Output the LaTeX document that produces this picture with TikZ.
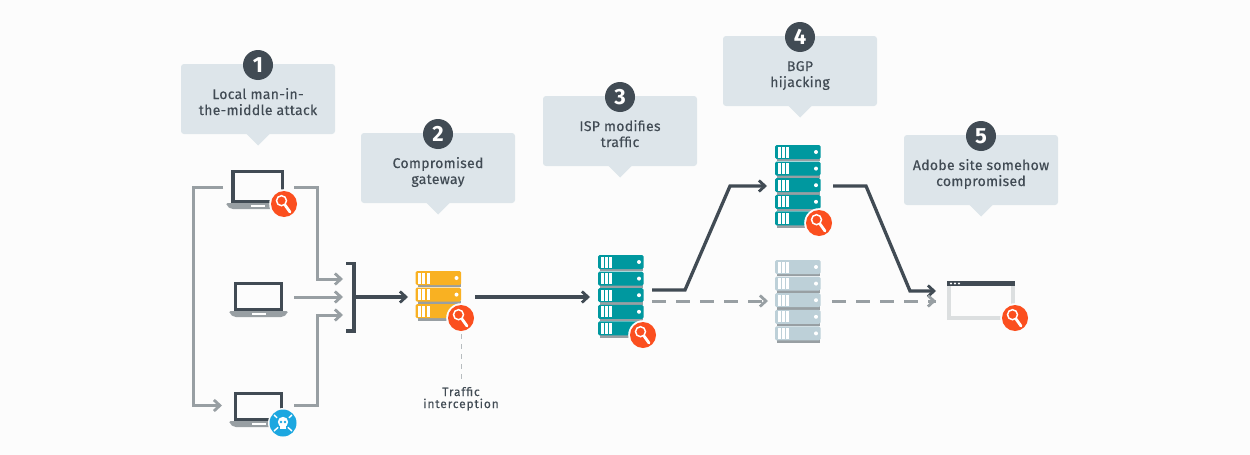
\documentclass[tikz,border=0pt]{standalone}
\usepackage{fontspec}
\setmainfont{Fira Sans}
\newfontfamily\boxfont{Fira Sans}[FakeBold=0.35,LetterSpace=2.2]
\newfontfamily\notefont{Fira Sans}[FakeBold=0.3,LetterSpace=7]
\usetikzlibrary{arrows.meta,calc}
\definecolor{bgc}{HTML}{FCFCFC}
\definecolor{boxc}{HTML}{DDE5EA}
\definecolor{darkc}{HTML}{414B54}
\definecolor{greyc}{HTML}{989FA3}
\definecolor{tealc}{HTML}{00989F}
\definecolor{yelc}{HTML}{F9B122}
\definecolor{ghostc}{HTML}{BDD0D8}
\definecolor{redc}{HTML}{FB4F1F}
\definecolor{bluec}{HTML}{1CA7E0}
\definecolor{framec}{HTML}{DCDFE0}
\tikzset{
  boxtext/.style={text=darkc,font=\boxfont\fontsize{14}{16}\selectfont,align=center,inner sep=0pt},
  smalltext/.style={text=darkc,font=\notefont\fontsize{12}{12}\selectfont,align=center,inner sep=0pt},
  numnode/.style={circle,fill=darkc,text=white,minimum size=30pt,inner sep=0pt,font=\fontsize{22}{22}\selectfont\bfseries},
  darkline/.style={draw=darkc,line width=3.3pt,line join=miter},
  greyline/.style={draw=greyc,line width=3pt,line join=miter},
  tip/.style={-{Straight Barb[length=6pt,width=11pt,line width=2.8pt]}},
  dashline/.style={greyline,dash pattern=on 14pt off 10pt},
  thindash/.style={draw=greyc!70,line width=1pt,dash pattern=on 5pt off 5pt},
}
\newcommand{\callout}[6]{%
  \fill[boxc,rounded corners=3pt] (#1,#2) rectangle ++(154,70);
  \fill[boxc] ($(#1,#2)+(65,69.5)$) -- ++(12,12) -- ++(12,-12) -- cycle;
  \node[numnode] (#4) at ($(#1,#2)+(77,1)$) {#3};
  \node[boxtext,anchor=base] (#4a) at ($(#1,#2)+(77,35)$) {#5};
  \node[boxtext,anchor=base] (#4b) at ($(#1,#2)+(77,51)$) {#6};
}
\newcommand{\laptop}[5]{%
  \draw[draw=darkc,line width=3.4pt] (#1+1.5,#2+1.5) rectangle (#1+#3-1.5,#2+#4);
  \fill[greyc,rounded corners=2pt] (#1-#5,#2+#4+1) -- (#1+#3+#5,#2+#4+1) -- (#1+#3+#5-1,#2+#4+4) -- (#1+#3+#5-5,#2+#4+7) -- (#1-#5+5,#2+#4+7) -- (#1-#5+1,#2+#4+4) -- cycle;
  \fill[white] (#1+#3/2-7,#2+#4+3) rectangle (#1+#3/2+7,#2+#4+5);
}
\newcommand{\server}[4]{%
  \foreach \i in {1,...,#3}{%
    \pgfmathsetmacro{\yy}{#2+(\i-1)*16.6}
    \fill[greyc] (#1+2,\yy+13) rectangle (#1+45,\yy+16.4);
    \fill[#4,rounded corners=1.5pt] (#1,\yy) rectangle (#1+45.5,\yy+14);
    \fill[white] (#1+2.8,\yy+1.5) rectangle ++(3,11);
    \fill[white] (#1+6.9,\yy+1.5) rectangle ++(3,11);
    \fill[white] (#1+11,\yy+1.5) rectangle ++(3,11);
    \fill[white] (#1+41,\yy+7) circle (2);
  }%
}
\newcommand{\lens}[2]{%
  \fill[bgc] (#1,#2) circle (14.8);
  \fill[redc] (#1,#2) circle (13);
  \draw[white,line width=1.5pt] (#1-2.5,#2-3.3) circle (5);
  \draw[white,line width=2.8pt,line cap=round] (#1+1,#2+1) -- (#1+6,#2+8);
}
\newcommand{\skull}[2]{%
  \fill[bluec] (#1,#2) circle (13.5);
  \draw[white,line width=1.4pt] (#1-9,#2-8) -- (#1+9,#2+8) (#1+9,#2-8) -- (#1-9,#2+8);
  \fill[bluec] (#1,#2-1) circle (7.2);
  \fill[white] (#1,#2-1) circle (5.2);
  \fill[white] (#1-2.7,#2+1) rectangle (#1+2.7,#2+6);
  \fill[bluec] (#1-2,#2-1) circle (1.3) (#1+2,#2-1) circle (1.3);
}
\begin{document}
\begin{tikzpicture}[x=1pt,y=-1pt]
\useasboundingbox (0,0) rectangle (1250,455);
\fill[bgc] (0,0) rectangle (1250,455);

\callout{181}{64}{1}{n1}{Local man-in-}{the-middle attack}
\callout{361}{133}{2}{n2}{Compromised}{gateway}
\callout{543}{96}{3}{n3}{ISP modifies}{traffic}
\callout{723}{36}{4}{n4}{BGP}{hijacking}
\callout{904}{135}{5}{n5}{Adobe site somehow}{compromised}

\coordinate (lapAl) at (223,187);
\coordinate (lapAr) at (294,187);
\coordinate (loopTL) at (193,187);
\coordinate (loopBL) at (193,405.5);
\coordinate (lapCl) at (222,405.5);
\coordinate (lapCr) at (294,405.5);
\coordinate (lapBr) at (294,297);
\coordinate (colA) at (317,187);
\coordinate (colC) at (317,405.5);
\coordinate (inA) at (343,279);
\coordinate (inB) at (343,297);
\coordinate (inC) at (343,315);
\coordinate (brT0) at (346,263.5);
\coordinate (brT) at (354,263.5);
\coordinate (brB) at (354,331);
\coordinate (brB0) at (346,331);
\coordinate (brM) at (354,297);
\coordinate (gwIn) at (408,297);
\coordinate (gwOut) at (475,297);
\coordinate (ispIn) at (590,297);
\coordinate (ispOutU) at (652,290);
\coordinate (upA) at (685,290);
\coordinate (upB) at (730,186);
\coordinate (bgpIn) at (767,186);
\coordinate (bgpOut) at (833,186);
\coordinate (dnA) at (866,186);
\coordinate (dnB) at (910,291);
\coordinate (webInU) at (936,291);
\coordinate (ispOutD) at (652,301);
\coordinate (ghostIn) at (768,301);
\coordinate (ghostOut) at (832,301);
\coordinate (webInD) at (936,301);
\coordinate (gwBadge) at (461,334);
\coordinate (noteTop) at (461,383);

\draw[greyline,tip] (lapAl) -- (loopTL) -- (loopBL) -- (lapCl);
\draw[greyline,tip] (lapAr) -- (colA) |- (inA);
\draw[greyline,tip] (lapBr) -- (inB);
\draw[greyline,tip] (lapCr) -- (colC) |- (inC);
\draw[darkline] (brT0) -- (brT) -- (brB) -- (brB0);
\draw[darkline,tip] (brM) -- (gwIn);
\draw[darkline,tip] (gwOut) -- (ispIn);
\draw[darkline,tip] (ispOutU) -- (upA) -- (upB) -- (bgpIn);
\draw[darkline,tip] (bgpOut) -- (dnA) -- (dnB) -- (webInU);
\draw[dashline] (ispOutD) -- (ghostIn);
\draw[dashline] (ghostOut) -- (webInD);
\draw[greyline,tip,dash pattern=on 0pt off 200pt] (ghostOut) -- (webInD);
\draw[greyline,tip,dash pattern=on 0pt off 200pt] (ispOutD) -- (ghostIn);
\draw[thindash] (gwBadge) -- (noteTop);

\laptop{231.5}{170}{52.5}{32}{5.5}
\laptop{234}{282}{49}{28}{5}
\laptop{234}{392}{49}{28}{5}
\lens{284}{204}
\fill[bgc] (283,423) circle (15);
\skull{283}{423}

\server{415.5}{271}{3}{yelc}
\lens{461}{318}
\server{598}{255}{5}{tealc}
\lens{643}{335}
\server{775}{145}{5}{tealc}
\lens{819}{223}
\server{775}{260}{5}{ghostc}

\draw[framec,line width=4pt] (949,284) -- (949,318) -- (1013,318) -- (1013,284);
\fill[darkc] (947,281) rectangle (1015,286);
\foreach \d in {0,1,2}{\fill[white] (951+\d*4,283.5) circle (1.1);}
\lens{1015}{318}

\node[smalltext,anchor=base] (noteA) at (461,396) {Traffic};
\node[smalltext,anchor=base] (noteB) at (461,408) {interception};
\end{tikzpicture}
\end{document}
